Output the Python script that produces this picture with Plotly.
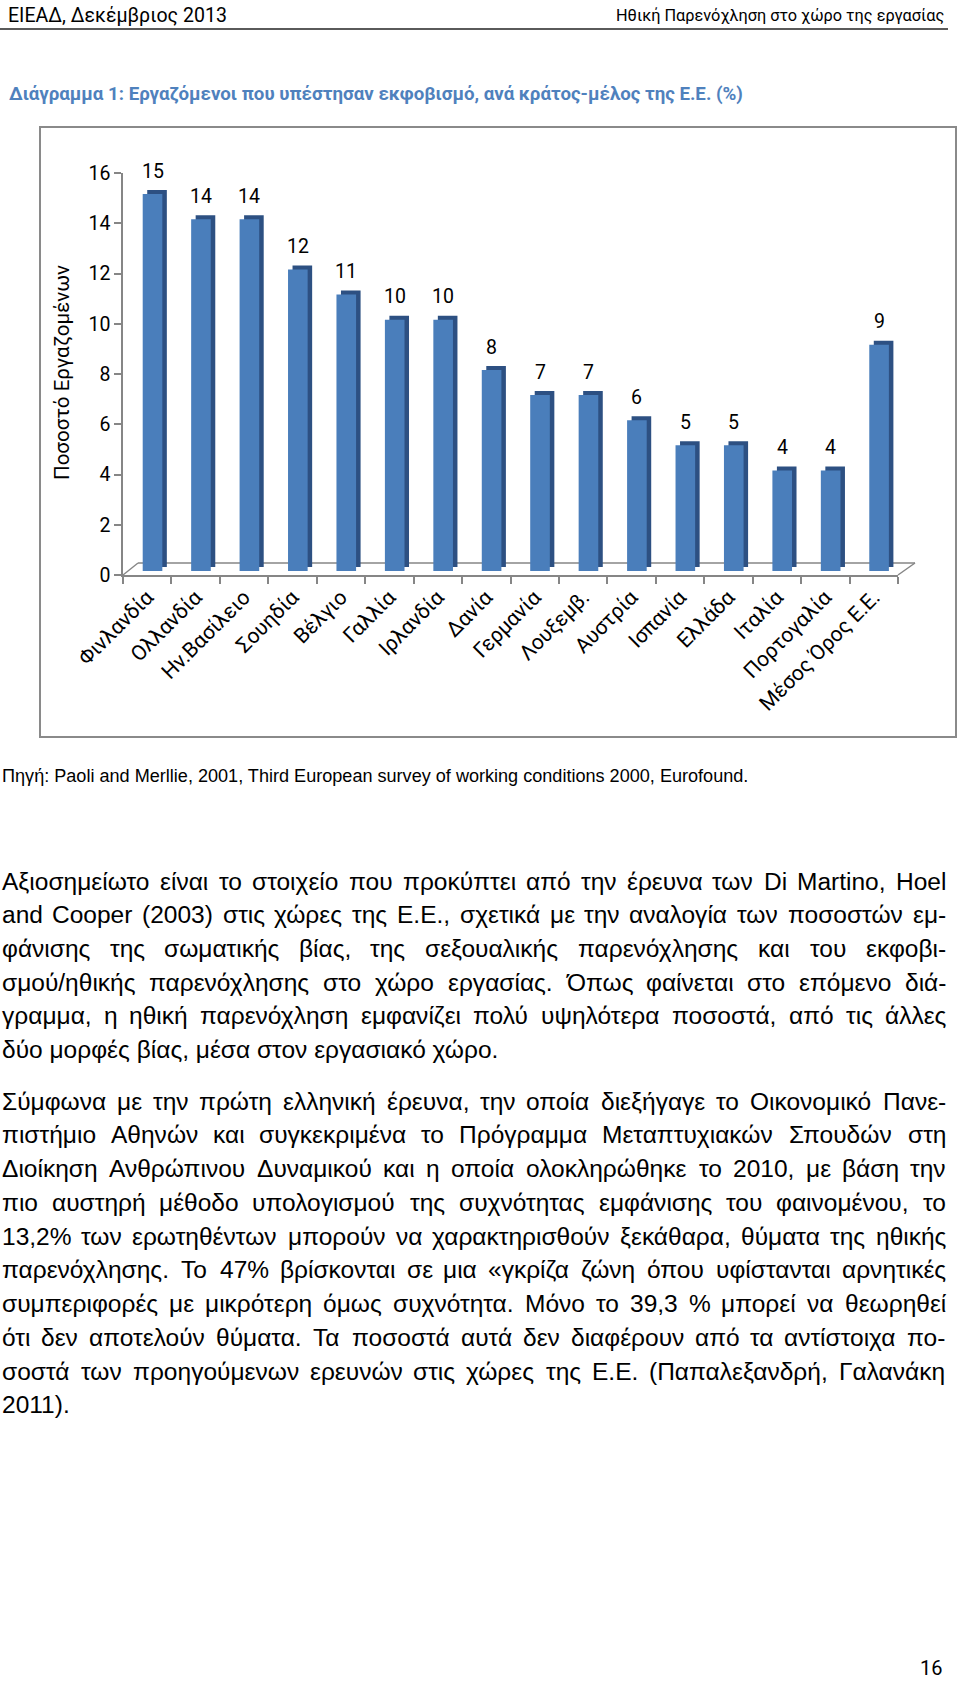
import glob
import struct
import plotly.graph_objects as go

# ---------------- data ----------------
categories = ["Φινλανδία", "Ολλανδία", "Ην.Βασίλειο", "Σουηδία", "Βέλγιο", "Γαλλία",
              "Ιρλανδία", "Δανία", "Γερμανία", "Λουξεμβ.", "Αυστρία", "Ισπανία",
              "Ελλάδα", "Ιταλία", "Πορτογαλία", "Μέσος Όρος Ε.Ε."]
values = [15, 14, 14, 12, 11, 10, 10, 8, 7, 7, 6, 5, 5, 4, 4, 9]
y_ticks = [0, 2, 4, 6, 8, 10, 12, 14, 16]

header_left = "ΕΙΕΑΔ, Δεκέμβριος 2013"
header_right = "Ηθική Παρενόχληση στο χώρο της εργασίας"
chart_title = "Διάγραμμα 1: Εργαζόμενοι που υπέστησαν εκφοβισμό, ανά κράτος-μέλος της Ε.Ε. (%)"
y_title = "Ποσοστό Εργαζομένων"
source_note = "Πηγή: Paoli and Merllie, 2001, Third European survey of working conditions 2000, Eurofound."
page_number = "16"

paragraph_1 = [
    "Αξιοσημείωτο είναι το στοιχείο που προκύπτει από την έρευνα των Di Martino, Hoel",
    "and Cooper (2003) στις χώρες της Ε.Ε., σχετικά με την αναλογία των ποσοστών εμ-",
    "φάνισης της σωματικής βίας, της σεξουαλικής παρενόχλησης και του εκφοβι-",
    "σμού/ηθικής παρενόχλησης στο χώρο εργασίας. Όπως φαίνεται στο επόμενο διά-",
    "γραμμα, η ηθική παρενόχληση εμφανίζει πολύ υψηλότερα ποσοστά, από τις άλλες",
    "δύο μορφές βίας, μέσα στον εργασιακό χώρο.",
]
paragraph_2 = [
    "Σύμφωνα με την πρώτη ελληνική έρευνα, την οποία διεξήγαγε το Οικονομικό Πανε-",
    "πιστήμιο Αθηνών και συγκεκριμένα το Πρόγραμμα Μεταπτυχιακών Σπουδών στη",
    "Διοίκηση Ανθρώπινου Δυναμικού και η οποία ολοκληρώθηκε το 2010, με βάση την",
    "πιο αυστηρή μέθοδο υπολογισμού της συχνότητας εμφάνισης του φαινομένου, το",
    "13,2% των ερωτηθέντων μπορούν να χαρακτηρισθούν ξεκάθαρα, θύματα της ηθικής",
    "παρενόχλησης. Το 47% βρίσκονται σε μια «γκρίζα ζώνη όπου υφίστανται αρνητικές",
    "συμπεριφορές με μικρότερη όμως συχνότητα. Μόνο το 39,3 % μπορεί να θεωρηθεί",
    "ότι δεν αποτελούν θύματα. Τα ποσοστά αυτά δεν διαφέρουν από τα αντίστοιχα πο-",
    "σοστά των προηγούμενων ερευνών στις χώρες της Ε.Ε. (Παπαλεξανδρή, Γαλανάκη",
    "2011).",
]

# ---------------- font metrics (for sizing / justification) ----------------
def _parse_font(path):
    data = open(path, "rb").read()
    if data[:4] == b"ttcf":
        off0 = struct.unpack(">I", data[12:16])[0]
    else:
        off0 = 0
    num = struct.unpack(">H", data[off0 + 4:off0 + 6])[0]
    tables = {}
    for i in range(num):
        rec = data[off0 + 12 + 16 * i: off0 + 28 + 16 * i]
        tag, _cs, off, ln = struct.unpack(">4sIII", rec)
        tables[tag.decode("latin1")] = off
    upem = struct.unpack(">H", data[tables["head"] + 18:tables["head"] + 20])[0]
    nhm = struct.unpack(">H", data[tables["hhea"] + 34:tables["hhea"] + 36])[0]
    hm = tables["hmtx"]
    adv = [struct.unpack(">H", data[hm + 4 * i:hm + 4 * i + 2])[0] for i in range(nhm)]
    cm = tables["cmap"]
    n = struct.unpack(">H", data[cm + 2:cm + 4])[0]
    sub = None
    for i in range(n):
        pid, eid, so = struct.unpack(">HHI", data[cm + 4 + 8 * i: cm + 12 + 8 * i])
        fmt = struct.unpack(">H", data[cm + so:cm + so + 2])[0]
        if fmt == 4 and pid in (0, 3):
            sub = cm + so
            break
    if sub is None:
        raise ValueError("no fmt4")
    segx2 = struct.unpack(">H", data[sub + 6:sub + 8])[0]
    seg = segx2 // 2
    ends = struct.unpack(">%dH" % seg, data[sub + 14: sub + 14 + segx2])
    starts = struct.unpack(">%dH" % seg, data[sub + 16 + segx2: sub + 16 + 2 * segx2])
    deltas = struct.unpack(">%dh" % seg, data[sub + 16 + 2 * segx2: sub + 16 + 3 * segx2])
    rpos = sub + 16 + 3 * segx2
    roffs = struct.unpack(">%dH" % seg, data[rpos: rpos + segx2])
    cache = {}

    def gid(c):
        if c in cache:
            return cache[c]
        g = 0
        for i in range(seg):
            if ends[i] >= c:
                if starts[i] <= c:
                    if roffs[i] == 0:
                        g = (c + deltas[i]) & 0xFFFF
                    else:
                        p = rpos + 2 * i + roffs[i] + 2 * (c - starts[i])
                        gg = struct.unpack(">H", data[p:p + 2])[0]
                        g = (gg + deltas[i]) & 0xFFFF if gg else 0
                break
        cache[c] = g
        return g

    def width(text):
        tot = 0
        for ch in text:
            g = gid(ord(ch))
            tot += adv[min(g, nhm - 1)]
        return tot / upem

    return width


def load_metrics(names):
    roots = ["/usr/share/fonts", "/usr/local/share/fonts", "/usr/share/fonts/truetype"]
    for name in names:
        for r in roots:
            for f in sorted(glob.glob(r + "/**/" + name, recursive=True)):
                try:
                    return _parse_font(f)
                except Exception:
                    pass
    return None


arial_m = load_metrics(["LiberationSans-Regular.ttf"])
rob_m = load_metrics(["Roboto-Regular.ttf", "Roboto[[]*.ttf", "Roboto*.ttf"])
robb_m = load_metrics(["Roboto-Bold.ttf"])


def fit(metrics, text, target, fallback):
    if metrics is None:
        return fallback
    w = metrics(text)
    if w <= 0:
        return fallback
    s = target / w
    if s < fallback * 0.7 or s > fallback * 1.3:
        return fallback
    return s


W, H = 960, 1707


def PX(x):
    return x / W


def PY(y):
    return 1 - y / H


BODY_FONT = "Liberation Sans, Arial, sans-serif"
CAL_FONT = "Roboto, Noto Sans, sans-serif"

body_size = fit(arial_m, paragraph_1[-1], 498, 21)
source_size = fit(arial_m, source_note, 747, 16)
hl_size = fit(rob_m, header_left, 219, 19)
hr_size = fit(rob_m, header_right, 329, 19)
title_size = fit(robb_m if robb_m else rob_m, chart_title, 736, 17)
ytitle_size = fit(rob_m, y_title, 216, 19)
tick_size = 19.5
xtick_size = 21
label_size = 19.5

# ---------------- figure ----------------
fig = go.Figure()

# dark "depth" of 3D bars (top and side faces)
fig.add_trace(go.Bar(
    x=categories, y=values, base=0.32, width=0.405, offset=0.0,
    marker=dict(color="#2D5082", line=dict(width=0)),
    hoverinfo="skip", showlegend=False,
))
# front faces
fig.add_trace(go.Bar(
    x=categories, y=values, base=0.16, width=0.405, offset=-0.093,
    marker=dict(color="#4A7EBB", line=dict(width=0)),
    showlegend=False,
))

annotations = []
# value labels
for c, v in zip(categories, values):
    annotations.append(dict(
        x=c, y=v, xref="x", yref="y", text=str(v), showarrow=False,
        xshift=5.3, yshift=27, xanchor="center", yanchor="middle",
        font=dict(family=CAL_FONT, size=label_size, color="#000000"),
    ))

# y-axis title
annotations.append(dict(
    x=PX(62), y=PY(373), xref="paper", yref="paper", text=y_title, showarrow=False,
    textangle=-90, xanchor="center", yanchor="middle",
    font=dict(family=CAL_FONT, size=ytitle_size, color="#000000"),
))

# header
annotations.append(dict(
    x=PX(7), y=PY(15), xref="paper", yref="paper", text=header_left, showarrow=False,
    xanchor="left", yanchor="middle", borderpad=0,
    font=dict(family=CAL_FONT, size=hl_size, color="#000000"),
))
annotations.append(dict(
    x=PX(945), y=PY(15), xref="paper", yref="paper", text=header_right, showarrow=False,
    xanchor="right", yanchor="middle", borderpad=0,
    font=dict(family=CAL_FONT, size=hr_size, color="#000000"),
))
# chart title
annotations.append(dict(
    x=PX(8), y=PY(94), xref="paper", yref="paper", text=chart_title, showarrow=False,
    xanchor="left", yanchor="middle", borderpad=0,
    font=dict(family=CAL_FONT, size=title_size, color="#4F81BD", weight="bold"),
))
# source
annotations.append(dict(
    x=PX(1), y=PY(776), xref="paper", yref="paper", text=source_note, showarrow=False,
    xanchor="left", yanchor="middle", borderpad=0,
    font=dict(family=BODY_FONT, size=source_size, color="#000000"),
))
# page number
annotations.append(dict(
    x=PX(943), y=PY(1668), xref="paper", yref="paper", text=page_number, showarrow=False,
    xanchor="right", yanchor="middle", borderpad=0,
    font=dict(family=CAL_FONT, size=20, color="#000000"),
))


def add_paragraph(lines, y0, step, left=1.0, right=945.0):
    for k, line in enumerate(lines):
        y = y0 + k * step
        words = line.split(" ")
        last = k == len(lines) - 1
        if arial_m is None or last or len(words) == 1:
            annotations.append(dict(
                x=PX(left), y=PY(y), xref="paper", yref="paper", text=line,
                showarrow=False, xanchor="left", yanchor="middle", borderpad=0,
                font=dict(family=BODY_FONT, size=body_size, color="#000000"),
            ))
            continue
        widths = [arial_m(w) * body_size for w in words]
        gap = (right - left - sum(widths)) / (len(words) - 1)
        x = left
        for w, wd in zip(words, widths):
            annotations.append(dict(
                x=PX(x), y=PY(y), xref="paper", yref="paper", text=w,
                showarrow=False, xanchor="left", yanchor="middle", borderpad=0,
                font=dict(family=BODY_FONT, size=body_size, color="#000000"),
            ))
            x += wd + gap


add_paragraph(paragraph_1, 881, 33.7)
add_paragraph(paragraph_2, 1101, 33.75)

AX = "#868686"
shapes = [
    # header rule
    dict(type="line", xref="paper", yref="paper", x0=PX(0), x1=PX(948), y0=PY(29), y1=PY(29),
         line=dict(color="#5A5A5A", width=2)),
    # chart frame
    dict(type="rect", xref="paper", yref="paper", x0=PX(40), x1=PX(956), y0=PY(737), y1=PY(127),
         line=dict(color="#8A8A8A", width=2), fillcolor="rgba(0,0,0,0)"),
    # 3D floor
    dict(type="line", xref="paper", yref="paper", x0=PX(138), x1=PX(915), y0=PY(563), y1=PY(563),
         line=dict(color=AX, width=1.5), layer="below"),
    dict(type="line", xref="paper", yref="paper", x0=PX(123), x1=PX(138), y0=PY(575), y1=PY(563),
         line=dict(color=AX, width=1.5), layer="below"),
    dict(type="line", xref="paper", yref="paper", x0=PX(898), x1=PX(915), y0=PY(575), y1=PY(563),
         line=dict(color=AX, width=1.5), layer="below"),
]

fig.update_layout(
    width=W, height=H,
    margin=dict(l=0, r=0, t=0, b=0, pad=0, autoexpand=False),
    paper_bgcolor="white", plot_bgcolor="rgba(0,0,0,0)",
    barmode="overlay", showlegend=False,
    annotations=annotations, shapes=shapes,
    xaxis=dict(
        domain=[PX(123), PX(898)], type="category", range=[-0.5, 15.5],
        automargin=False,
        showline=True, linecolor=AX, linewidth=1.5,
        ticks="outside", tickson="boundaries", ticklen=7, tickcolor=AX, tickwidth=1.5,
        tickangle=-45, showgrid=False, zeroline=False,
        tickfont=dict(family=CAL_FONT, size=xtick_size, color="#000000"),
    ),
    yaxis=dict(
        domain=[PY(575), PY(173)], range=[0, 16], tickvals=y_ticks,
        automargin=False,
        showline=True, linecolor=AX, linewidth=1.5,
        ticks="outside", ticklen=7, tickcolor=AX, tickwidth=1.5,
        showgrid=False, zeroline=False,
        tickfont=dict(family=CAL_FONT, size=tick_size, color="#000000"),
    ),
)

fig.write_html(
    "out.html",
    config={"displayModeBar": False},
    post_script="document.body.style.margin='0px';document.body.style.padding='0px';"
                "document.documentElement.style.overflow='hidden';",
)
